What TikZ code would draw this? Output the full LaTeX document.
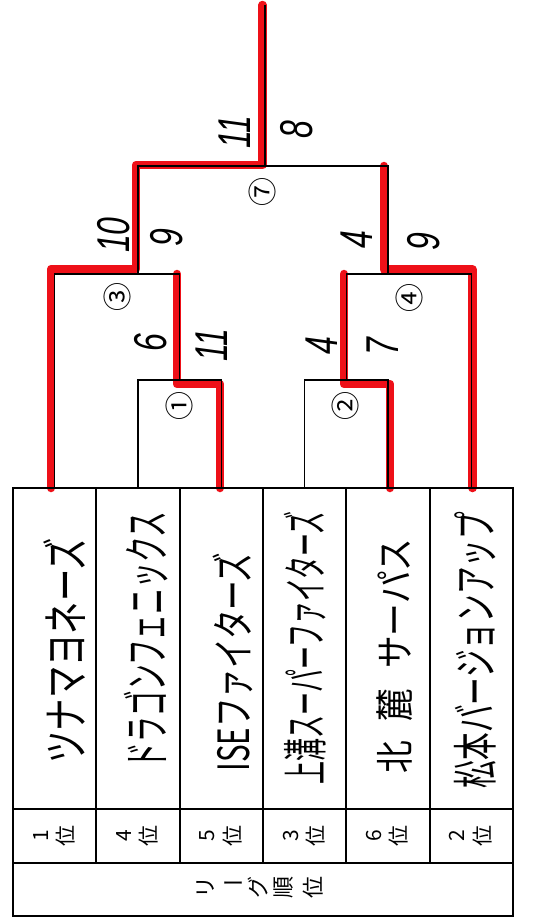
\documentclass[tikz,border=0pt]{standalone}
\usepackage{fontspec}
\usepackage{graphicx}
\usetikzlibrary{backgrounds}
\setmainfont{Liberation Sans}
\newfontfamily\jp{Noto Sans CJK JP}
\newfontfamily\hand{Liberation Sans}
\definecolor{hired}{RGB}{238,16,24}
\newcommand\hw[1]{\scalebox{0.8}[1.15]{#1}}
\begin{document}
\begin{tikzpicture}[x=1pt,y=-1pt,
  cell/.style={draw, line width=1.8pt, minimum width=83.33pt, inner sep=0pt, outer sep=0pt},
  br/.style={line width=1.4pt, line join=miter},
  win/.style={line width=8.5pt, draw=hired, line cap=round, line join=round},
  team/.style={rotate=90, inner sep=0pt, font=\jp},
  rank/.style={rotate=90, inner sep=0pt, font=\jp\fontsize{21}{21}\selectfont},
  lgl/.style={rotate=90, inner sep=0pt, font=\jp\fontsize{22}{22}\selectfont},
  score/.style={rotate=90, inner sep=0pt, font=\hand\itshape\fontsize{40}{40}\selectfont},
  circ/.style={rotate=90, inner sep=0pt, font=\jp\fontsize{29}{29}\selectfont}]

\useasboundingbox (0,0) rectangle (543,919);

% table cells
\foreach \i/\x in {1/54.67,2/138,3/221.33,4/304.67,5/388,6/471.33} {
  \node[cell, minimum height=321pt] (t\i) at (\x,648.5) {};
  \node[cell, minimum height=54pt] (r\i) at (\x,836) {};
}
\node[cell, minimum width=500pt, minimum height=53.5pt] (lg) at (263,889.5) {};

% bracket junctions
\coordinate (m1) at (179.67,380);
\coordinate (m2) at (346.33,380);
\coordinate (m3) at (138,274);
\coordinate (m4) at (388,274);
\coordinate (m7) at (265,166);
\coordinate (fin) at (265,5);
\coordinate (m13) at (m1 |- m3);
\coordinate (m24) at (m2 |- m4);
\coordinate (m47) at (m4 |- m7);

% winners' path in red (behind), hand-drawn offset
\begin{pgfonlayer}{background}
  \fill[white] (0,0) rectangle (543,919);
  \draw[win] ([xshift=-3.5pt]t1.north) |- ([shift={(-2pt,5pt)}]m3)
             |- ([shift={(-2.5pt,1pt)}]m7) -- ([xshift=-2.5pt]fin);
  \draw[win] ([xshift=-1.3pt]t3.north) |- ([shift={(-2.7pt,-4pt)}]m1) -- ([xshift=-2.7pt]m13);
  \draw[win] ([xshift=2pt]t5.north) |- ([shift={(-2.3pt,-4pt)}]m2) -- ([xshift=-2.3pt]m24);
  \draw[win] ([xshift=1.2pt]t6.north) |- ([shift={(-4pt,4.5pt)}]m4) -- ([xshift=-4pt]m47);
\end{pgfonlayer}

% bracket lines
\draw[br] (t2.north) |- (m1) -| (t3.north);
\draw[br] (t4.north) |- (m2) -| (t5.north);
\draw[br] (t1.north) |- (m3) -| (m1);
\draw[br] (m2) |- (m4) -| (t6.north);
\draw[br] (m3) |- (m7) -| (m4);
\draw[br] (m7) -- (fin);

% team names
\node[team] (n1) at (64.5,651) {\resizebox*{225pt}{42pt}{ツナマヨネーズ}};
\node[team] (n2) at (146,640) {\resizebox*{256pt}{44pt}{ドラゴンフェニックス}};
\node[team] (n3) at (233,662) {\resizebox*{219pt}{40pt}{ISEファイターズ}};
\node[team] (n4) at (305,648) {\resizebox*{272pt}{42pt}{上溝スーパーファイターズ}};
\node[team] (n5) at (395,656) {\resizebox*{235pt}{36pt}{北\hspace{0.6em}麓\hspace{0.6em}サーパス}};
\node[team] (n6) at (475,650) {\resizebox*{276pt}{42pt}{松本バージョンアップ}};

% ranks
\foreach \i/\d in {1/1,2/4,3/5,4/3,5/6,6/2} {
  \node[rank] (kd\i) at ([xshift=-14pt]r\i.center) {\d};
  \node[rank] (ku\i) at ([xshift=11pt]r\i.center) {位};
}
\node[lgl] (l1) at (206,887) {リ};
\node[lgl, rotate=-90] (l2) at (233.5,887) {ー};
\node[lgl] (l3) at (258.5,887) {グ};
\node[lgl] (l4) at (284,887) {順};
\node[lgl] (l5) at (313.5,887) {位};

% scores
\node[score] (s1) at (235,132) {\hw{11}};
\node[score] (s2) at (297,130) {\hw{8}};
\node[score] (s3) at (114,235) {\hw{10}};
\node[score] (s4) at (167,238) {\hw{9}};
\node[score] (s5) at (357,240) {\hw{4}};
\node[score] (s6) at (424,242) {\hw{9}};
\node[score] (s7) at (151,343) {\hw{6}};
\node[score] (s8) at (212,345) {\hw{11}};
\node[score] (s9) at (322,346) {\hw{4}};
\node[score] (s10) at (383,347) {\hw{7}};

% match numbers
\node[circ] (c7) at (262,192) {⑦};
\node[circ] (c3) at (117,297) {③};
\node[circ] (c4) at (409,298) {④};
\node[circ] (c1) at (179,406) {①};
\node[circ] (c2) at (345,406) {②};
\end{tikzpicture}
\end{document}
